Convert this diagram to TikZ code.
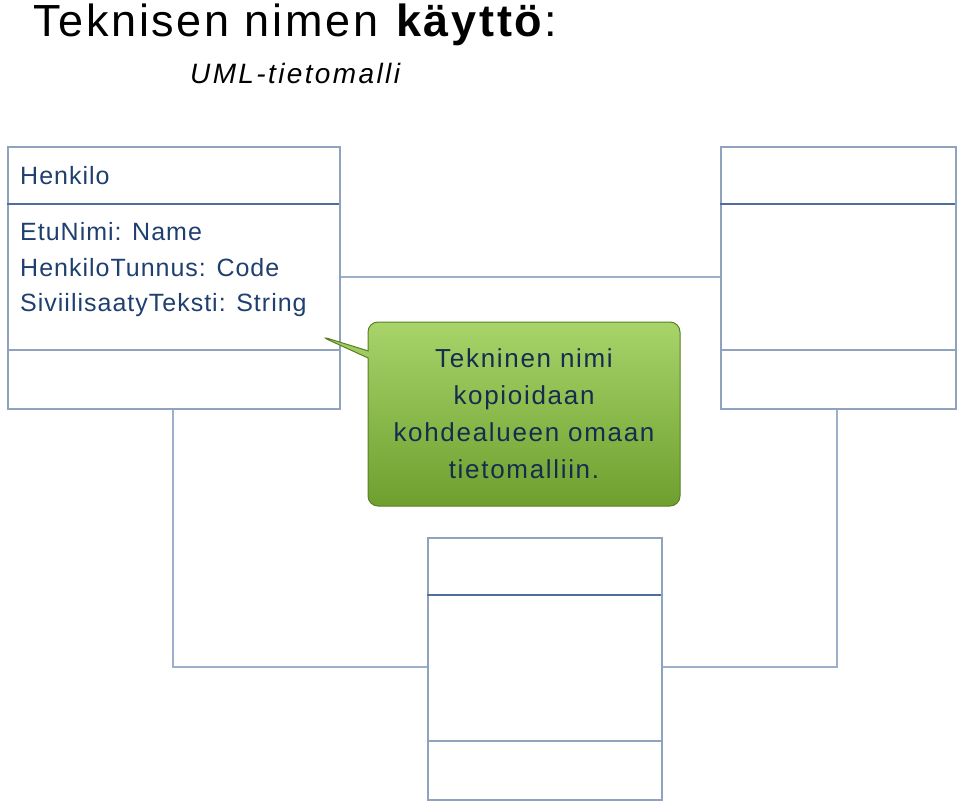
\documentclass[tikz,border=0pt]{standalone}
\usepackage{fontspec}
\setmainfont{Liberation Sans}
\usetikzlibrary{shapes.callouts}
\definecolor{bord}{HTML}{8FA3BF}
\definecolor{div}{HTML}{4F6E9E}
\definecolor{txt}{HTML}{1F3F6F}
\definecolor{conn}{HTML}{9DB0CB}
\definecolor{gdark}{HTML}{6E9F2E}
\definecolor{glight}{HTML}{A8D46A}
\tikzset{box/.style={draw=bord,line width=1.5pt},divl/.style={draw=div,line width=1.5pt},
 cn/.style={draw=conn,line width=1.5pt},
 lbl/.style={anchor=west,text=txt,font=\fontsize{25}{28}\selectfont\addfontfeatures{LetterSpace=4},inner sep=0}}
\begin{document}
\begin{tikzpicture}[x=1pt,y=-1pt]
\useasboundingbox (0,0) rectangle (960,801);
\node[anchor=base west,inner sep=0,font=\fontsize{45}{48}\selectfont\addfontfeatures{LetterSpace=6}] (t) at (33,36) {Teknisen nimen \textbf{käyttö}:};
\node[anchor=base west,inner sep=0,font=\fontsize{28}{30}\selectfont\itshape\addfontfeatures{LetterSpace=8.5}] (st) at (190,83) {UML-tietomalli};
% connectors
\coordinate (c1) at (173,667); \coordinate (c2) at (837,667);
\draw[cn] (173,408) -- (c1) -- (427,667);
\draw[cn] (837,408) -- (c2) -- (661,667);
\draw[cn] (339,277) -- (720,277);
% boxes
\node[box,minimum width=332,minimum height=262,anchor=north west,inner sep=0] (A) at (7,146) {};
\draw[divl] (7,204) -- (339,204); \draw[box] (7,350) -- (339,350);
\node[box,minimum width=235,minimum height=262,anchor=north west,inner sep=0] (B) at (720,146) {};
\draw[divl] (720,204) -- (955,204); \draw[box] (720,350) -- (955,350);
\node[box,minimum width=234,minimum height=262,anchor=north west,inner sep=0] (C) at (427,537) {};
\draw[divl] (427,595) -- (661,595); \draw[box] (427,741) -- (661,741);
\node[lbl] (n1) at (20,176) {Henkilo};
\node[lbl] (n2) at (20,232) {EtuNimi: Name};
\node[lbl] (n3) at (20,268) {HenkiloTunnus: Code};
\node[lbl] (n4) at (20,305) {SiviilisaatyTeksti: String};
% callout
\node[rectangle callout,rounded corners=10pt,draw=gdark!80!black,line width=1pt,
 top color=glight,bottom color=gdark,minimum width=312,minimum height=184,
 callout absolute pointer={(320,336)},align=center,text=txt!70!black,
 font=\fontsize{26}{37}\selectfont\addfontfeatures{LetterSpace=6.5}] (K) at (524,414)
 {Tekninen nimi\\kopioidaan\\kohdealueen omaan\\tietomalliin.};
\end{tikzpicture}
\end{document}
